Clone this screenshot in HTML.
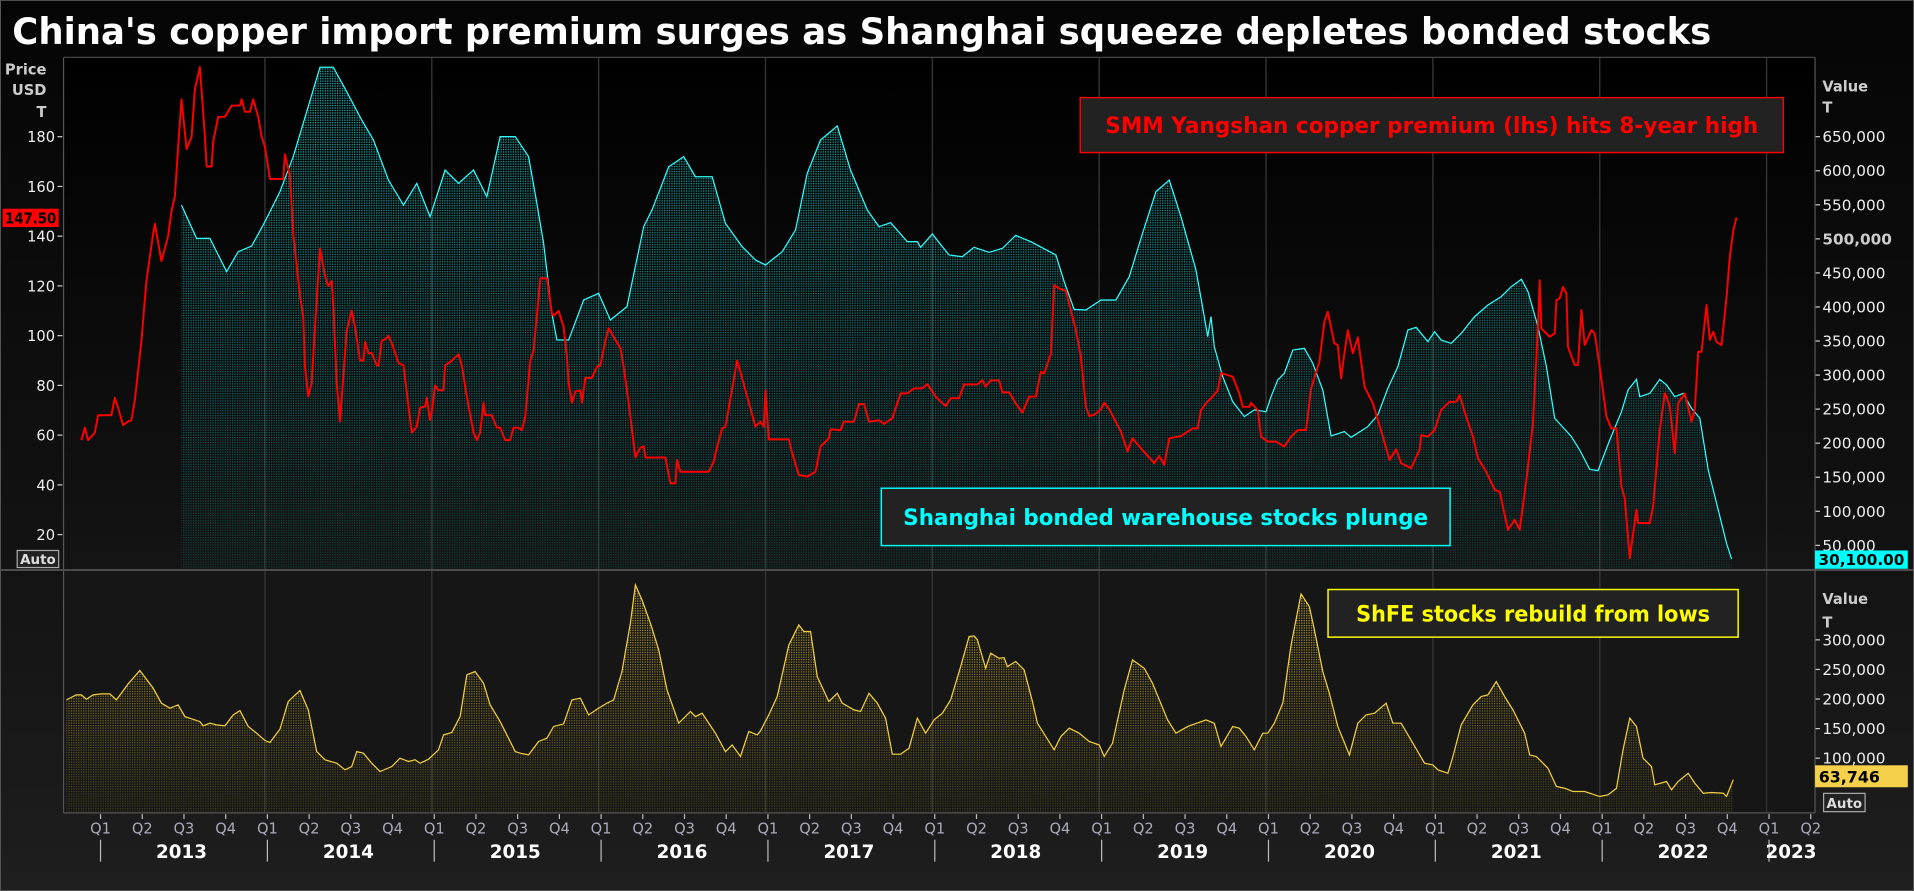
<!DOCTYPE html>
<html><head><meta charset="utf-8"><style>
html,body{margin:0;padding:0;background:#000;}
svg{display:block;font-family:"DejaVu Sans","Liberation Sans",sans-serif;}
</style></head><body>
<svg id="chart" width="1914" height="891" viewBox="0 0 1568 730" xmlns="http://www.w3.org/2000/svg">
<defs>
<linearGradient id="bgTop" x1="0" y1="0" x2="0" y2="1"><stop offset="0" stop-color="#000"/><stop offset="1" stop-color="#141414"/></linearGradient>
<linearGradient id="bgAll" x1="0" y1="0" x2="0" y2="1"><stop offset="0" stop-color="#050505"/><stop offset="0.6" stop-color="#121212"/><stop offset="1" stop-color="#1e1e1e"/></linearGradient>
<pattern id="dotC" width="2" height="2" patternUnits="userSpaceOnUse"><rect width="1" height="1" fill="#2ee"/></pattern>
<pattern id="dotY" width="2" height="2" patternUnits="userSpaceOnUse"><rect width="1" height="1" fill="#f0d040"/></pattern>
<linearGradient id="mgC" gradientUnits="userSpaceOnUse" x1="0" y1="55" x2="0" y2="465"><stop offset="0" stop-color="#fff" stop-opacity="0.85"/><stop offset="0.5" stop-color="#fff" stop-opacity="0.5"/><stop offset="1" stop-color="#fff" stop-opacity="0.18"/></linearGradient>
<linearGradient id="mgY" gradientUnits="userSpaceOnUse" x1="0" y1="480" x2="0" y2="666"><stop offset="0" stop-color="#fff" stop-opacity="0.85"/><stop offset="0.5" stop-color="#fff" stop-opacity="0.5"/><stop offset="1" stop-color="#fff" stop-opacity="0.2"/></linearGradient>
<mask id="maskC" maskUnits="userSpaceOnUse" x="0" y="0" width="1568" height="730"><rect x="0" y="0" width="1568" height="730" fill="url(#mgC)"/></mask>
<mask id="maskY" maskUnits="userSpaceOnUse" x="0" y="0" width="1568" height="730"><rect x="0" y="0" width="1568" height="730" fill="url(#mgY)"/></mask>
</defs>
<rect x="0" y="0" width="1568" height="730" fill="url(#bgAll)" stroke="#555" stroke-width="1.5"/>
<rect x="52" y="47" width="1435" height="420" fill="url(#bgTop)"/>
<rect x="52" y="467" width="1435" height="199" fill="#161616"/>
<text x="10" y="36" fill="#fff" font-size="30" font-weight="bold" textLength="1392" lengthAdjust="spacingAndGlyphs">China's copper import premium surges as Shanghai squeeze depletes bonded stocks</text>
<g id="grid"></g>
<g id="series"></g>
<g id="axes"></g>
<line x1="52" y1="47" x2="1487" y2="47" stroke="#444"/>
<line x1="52" y1="47" x2="52" y2="666" stroke="#555"/>
<line x1="1487" y1="47" x2="1487" y2="666" stroke="#555"/>
<line x1="0" y1="467" x2="1568" y2="467" stroke="#555" stroke-width="1.5"/>
<line x1="52" y1="666" x2="1487" y2="666" stroke="#555"/>
<text x="38" y="61" fill="#ccc" font-size="12" font-weight="bold" text-anchor="end">Price</text>
<text x="38" y="78" fill="#ccc" font-size="12" font-weight="bold" text-anchor="end">USD</text>
<text x="38" y="96" fill="#ccc" font-size="12" font-weight="bold" text-anchor="end">T</text>
<rect x="2" y="171" width="46" height="15" fill="#f00"/>
<text x="46" y="183" fill="#000" font-size="12" font-weight="bold" text-anchor="end" textLength="42" lengthAdjust="spacingAndGlyphs">147.50</text>
<rect x="14" y="451" width="34" height="14" fill="#222" stroke="#aaa"/>
<text x="31" y="462" fill="#ddd" font-size="11" font-weight="bold" text-anchor="middle">Auto</text>
<text x="1493" y="75" fill="#ccc" font-size="12" font-weight="bold">Value</text>
<text x="1493" y="92" fill="#ccc" font-size="12" font-weight="bold">T</text>
<rect x="1487" y="451" width="76" height="15" fill="#0ff"/>
<text x="1525" y="463" fill="#000" font-size="12.5" font-weight="bold" text-anchor="middle">30,100.00</text>
<text x="1493" y="495" fill="#ccc" font-size="12" font-weight="bold">Value</text>
<text x="1493" y="514" fill="#ccc" font-size="12" font-weight="bold">T</text>
<rect x="1487" y="627" width="76" height="18" fill="#f5d04a"/>
<text x="1490" y="641" fill="#000" font-size="13" font-weight="bold">63,746</text>
<rect x="1494" y="650" width="34" height="15" fill="#222" stroke="#aaa"/>
<text x="1511" y="662" fill="#ddd" font-size="11" font-weight="bold" text-anchor="middle">Auto</text>
<g>
<rect x="885" y="80" width="576" height="45" fill="#222" stroke="#f00" stroke-width="1.2"/>
<text x="1173" y="109" fill="#f00" font-size="18" font-weight="bold" text-anchor="middle" textLength="535" lengthAdjust="spacingAndGlyphs">SMM Yangshan copper premium (lhs) hits 8-year high</text>
</g>
<g>
<rect x="722" y="400" width="466" height="47" fill="#222" stroke="#0ff" stroke-width="1.2"/>
<text x="955" y="430" fill="#0ff" font-size="18" font-weight="bold" text-anchor="middle" textLength="430" lengthAdjust="spacingAndGlyphs">Shanghai bonded warehouse stocks plunge</text>
</g>
<g>
<rect x="1088" y="483" width="336" height="39" fill="#222" stroke="#ff0" stroke-width="1.2"/>
<text x="1256" y="509" fill="#ff0" font-size="18" font-weight="bold" text-anchor="middle" textLength="290" lengthAdjust="spacingAndGlyphs">ShFE stocks rebuild from lows</text>
</g>
</svg>
<script>
const premiumDates = [2012.90,2012.92,2012.94,2012.98,2013.00,2013.08,2013.10,2013.12,2013.15,2013.18,2013.20,2013.22,2013.26,2013.29,2013.33,2013.34,2013.38,2013.42,2013.44,2013.46,2013.48,2013.50,2013.53,2013.56,2013.58,2013.61,2013.64,2013.65,2013.68,2013.69,2013.72,2013.76,2013.80,2013.85,2013.86,2013.88,2013.91,2013.93,2013.96,2013.98,2014.00,2014.03,2014.11,2014.12,2014.15,2014.17,2014.21,2014.23,2014.24,2014.26,2014.28,2014.30,2014.33,2014.36,2014.38,2014.40,2014.41,2014.43,2014.45,2014.47,2014.49,2014.52,2014.54,2014.57,2014.59,2014.60,2014.62,2014.64,2014.67,2014.68,2014.70,2014.72,2014.74,2014.76,2014.80,2014.83,2014.88,2014.91,2014.93,2014.96,2014.97,2014.99,2015.00,2015.02,2015.04,2015.07,2015.08,2015.12,2015.16,2015.18,2015.21,2015.25,2015.27,2015.29,2015.31,2015.32,2015.36,2015.39,2015.41,2015.44,2015.47,2015.49,2015.52,2015.54,2015.56,2015.59,2015.61,2015.65,2015.69,2015.72,2015.73,2015.76,2015.79,2015.81,2015.82,2015.84,2015.86,2015.89,2015.90,2015.92,2015.96,2015.99,2016.01,2016.04,2016.06,2016.09,2016.13,2016.15,2016.18,2016.22,2016.25,2016.27,2016.28,2016.40,2016.43,2016.46,2016.47,2016.49,2016.66,2016.69,2016.71,2016.74,2016.76,2016.83,2016.88,2016.94,2016.97,2016.99,2017.00,2017.02,2017.14,2017.16,2017.20,2017.25,2017.30,2017.33,2017.38,2017.39,2017.45,2017.47,2017.53,2017.56,2017.59,2017.62,2017.68,2017.71,2017.76,2017.81,2017.85,2017.89,2017.94,2017.97,2018.02,2018.08,2018.11,2018.16,2018.19,2018.27,2018.30,2018.32,2018.35,2018.40,2018.42,2018.46,2018.50,2018.54,2018.58,2018.62,2018.65,2018.67,2018.71,2018.73,2018.76,2018.80,2018.86,2018.89,2018.92,2018.94,2018.97,2019.01,2019.03,2019.06,2019.13,2019.17,2019.20,2019.25,2019.33,2019.36,2019.39,2019.42,2019.49,2019.56,2019.59,2019.61,2019.64,2019.68,2019.71,2019.73,2019.80,2019.84,2019.86,2019.90,2019.91,2019.95,2019.97,2020.01,2020.06,2020.11,2020.15,2020.19,2020.24,2020.27,2020.32,2020.35,2020.37,2020.41,2020.43,2020.45,2020.47,2020.49,2020.52,2020.55,2020.59,2020.64,2020.70,2020.74,2020.78,2020.81,2020.87,2020.92,2020.93,2020.97,2021.01,2021.05,2021.10,2021.14,2021.16,2021.19,2021.24,2021.27,2021.32,2021.37,2021.40,2021.45,2021.49,2021.52,2021.56,2021.60,2021.63,2021.64,2021.65,2021.70,2021.73,2021.74,2021.76,2021.78,2021.80,2021.81,2021.85,2021.87,2021.89,2021.91,2021.95,2021.97,2022.00,2022.04,2022.07,2022.10,2022.13,2022.15,2022.18,2022.22,2022.23,2022.30,2022.32,2022.36,2022.39,2022.40,2022.42,2022.45,2022.47,2022.51,2022.55,2022.57,2022.59,2022.61,2022.64,2022.66,2022.68,2022.70,2022.73,2022.76,2022.78,2022.80,2022.82];
const premiumValues = [58,63,58,61,68,68,75,71,64,65.5,66,74,98,122,141,145,130,140,150,156,176,195,175,180,199,208,180,168,168,178,188,188,192.5,192.5,195,190,190,195,188,180,176,163,163,173,164,141,116,107.5,87.5,75.5,81,103.5,135,124,120,122,112,81,65.5,83.5,102,110,103.5,90,90,97.5,93,93,88,88,98,98.5,100,97,89,88,61,63.5,71,71.5,75,66,69,80,78,78,88,90,92.5,88,75.5,61,58,61,73,68,68,63,63,58,58,63,63,62,67.5,90,94,123,123,109,108,110,103.5,91.5,81,73,77.5,78,73,83,83,87.5,88,98,103,99.5,95,87.5,73,51,55,55.5,51,51,40.6,40.6,50,45.3,45.3,49.3,55.4,62.7,63.4,90,78,63.4,65.4,63.4,78,58.3,58.3,52.7,44,43.3,45.3,55.4,58.7,62.3,62,65.4,65.4,72.5,72.5,65.4,66,64.5,66.8,76.8,76.8,78.8,78.8,80.5,75.5,71.7,74.8,74.8,80.4,80.4,82.1,79.5,82,82,77.2,77.2,72.8,69,75.5,75.5,85.5,84.8,92.6,120.3,119,118,102.2,91.5,71.4,67.7,68.1,70.4,73,70.4,61.4,53.4,58.7,54.7,48.7,51.6,48,58.7,59.6,62.7,62.7,70,72.8,75.5,77.9,85,83.5,76.8,71.4,71.4,73,70.1,59.4,57.4,57.4,55.4,59.4,62,62,78.8,89.5,105.6,109.6,96.9,96.2,82.8,92.9,102.2,92.9,99.3,79.5,72.8,59.4,50,54.3,48.7,46.7,54.1,60,59.4,62,70.1,73.4,73.4,76.1,69.4,59.4,50.7,45.3,38,37.3,21.9,25.9,21.9,42,64.7,103.6,122.3,102.9,99.5,100.9,114.3,115,119.6,117,95.5,88.2,88.2,110.3,96.2,102.2,100.9,87.5,67.4,62.7,62.7,39.3,34.6,10.5,30,24.6,24.6,31.3,62.1,76.8,75.5,71.4,52.7,72.8,76.8,65.4,70.4,93.5,93.5,112.3,98.2,101.5,97.5,96.2,115.6,131.7,142.4,147.5];
const bondedDates = [2013.50,2013.59,2013.67,2013.77,2013.84,2013.92,2014.00,2014.09,2014.17,2014.25,2014.33,2014.41,2014.49,2014.58,2014.65,2014.74,2014.83,2014.91,2014.99,2015.08,2015.16,2015.25,2015.33,2015.41,2015.50,2015.58,2015.63,2015.67,2015.72,2015.75,2015.82,2015.91,2016.00,2016.07,2016.17,2016.27,2016.32,2016.42,2016.51,2016.58,2016.68,2016.76,2016.86,2016.94,2017.00,2017.10,2017.18,2017.25,2017.33,2017.43,2017.51,2017.61,2017.68,2017.75,2017.85,2017.91,2017.93,2018.00,2018.10,2018.18,2018.25,2018.34,2018.42,2018.50,2018.59,2018.74,2018.79,2018.85,2018.92,2019.01,2019.10,2019.18,2019.26,2019.34,2019.42,2019.49,2019.58,2019.63,2019.65,2019.67,2019.69,2019.74,2019.80,2019.87,2019.93,2020.00,2020.03,2020.07,2020.11,2020.16,2020.23,2020.28,2020.34,2020.39,2020.47,2020.51,2020.61,2020.67,2020.73,2020.79,2020.85,2020.90,2020.97,2021.01,2021.05,2021.11,2021.17,2021.25,2021.33,2021.41,2021.47,2021.53,2021.57,2021.63,2021.68,2021.73,2021.83,2021.88,2021.94,2021.99,2022.06,2022.13,2022.17,2022.22,2022.24,2022.30,2022.36,2022.40,2022.45,2022.50,2022.55,2022.60,2022.65,2022.71,2022.76,2022.79];
const bondedValues = [549700,500800,500800,451900,481200,489500,525300,569300,620700,686800,751900,751900,716100,674500,645200,586400,549700,581600,532600,601100,581600,601100,562000,650100,650100,620700,552200,493500,390700,351500,351500,410300,420000,380900,400500,517900,542400,606000,620700,591300,591300,522800,488600,469000,461700,481200,513000,596200,645200,665700,601100,542400,517900,523800,495900,495900,487600,507100,476300,473900,487600,480200,486100,505200,495900,476300,437200,396500,395600,410300,410300,444500,508100,569300,586400,532600,454300,385800,356400,385800,341700,297700,261000,239000,249000,246300,268300,292800,302600,336800,339300,317300,278100,210600,217000,208600,224300,241400,280600,312400,366200,370100,349100,363800,351500,346600,361300,385800,402900,415200,429800,440600,422500,371100,312400,236500,209600,190000,161600,159700,204700,246300,278100,293800,268300,273200,293800,285500,268300,273200,251200,236500,160700,101900,52800,30100];
const shfeDates = [2012.81,2012.87,2012.90,2012.93,2012.97,2013.02,2013.07,2013.11,2013.18,2013.25,2013.33,2013.38,2013.43,2013.48,2013.52,2013.61,2013.63,2013.67,2013.71,2013.76,2013.81,2013.85,2013.90,2013.95,2014.00,2014.03,2014.09,2014.14,2014.21,2014.26,2014.31,2014.36,2014.43,2014.48,2014.52,2014.55,2014.59,2014.64,2014.69,2014.76,2014.81,2014.86,2014.90,2014.93,2014.98,2015.04,2015.07,2015.12,2015.17,2015.21,2015.26,2015.31,2015.35,2015.41,2015.50,2015.53,2015.58,2015.64,2015.69,2015.73,2015.79,2015.84,2015.89,2015.94,2016.00,2016.05,2016.09,2016.14,2016.19,2016.22,2016.26,2016.31,2016.36,2016.41,2016.48,2016.55,2016.58,2016.62,2016.70,2016.76,2016.80,2016.85,2016.90,2016.95,2016.97,2017.02,2017.07,2017.14,2017.20,2017.23,2017.27,2017.31,2017.38,2017.43,2017.46,2017.53,2017.57,2017.62,2017.67,2017.72,2017.76,2017.81,2017.86,2017.91,2017.96,2018.01,2018.06,2018.11,2018.17,2018.22,2018.25,2018.27,2018.32,2018.35,2018.40,2018.43,2018.45,2018.50,2018.55,2018.60,2018.63,2018.73,2018.77,2018.82,2018.88,2018.94,2019.00,2019.03,2019.08,2019.15,2019.20,2019.27,2019.32,2019.41,2019.46,2019.53,2019.64,2019.69,2019.73,2019.80,2019.84,2019.88,2019.93,2019.98,2020.01,2020.05,2020.10,2020.15,2020.21,2020.26,2020.29,2020.34,2020.38,2020.43,2020.50,2020.55,2020.60,2020.65,2020.72,2020.76,2020.81,2020.88,2020.95,2021.00,2021.03,2021.09,2021.12,2021.17,2021.24,2021.29,2021.33,2021.38,2021.43,2021.48,2021.55,2021.58,2021.62,2021.69,2021.74,2021.79,2021.84,2021.91,2022.00,2022.05,2022.10,2022.14,2022.18,2022.22,2022.26,2022.31,2022.33,2022.40,2022.43,2022.47,2022.53,2022.57,2022.62,2022.67,2022.74,2022.76,2022.80];
const shfeValues = [198600,207000,207000,199700,207000,208700,208700,198600,225600,248200,218300,193000,184500,190100,170400,161900,154600,159100,156300,154600,173200,180500,153500,142200,129800,126500,149000,195800,214300,181700,111200,97200,91500,80300,85900,111200,108400,91500,77400,85900,100000,94400,97200,91500,98300,114100,139400,143400,170400,240800,246500,226700,190100,161900,111200,108400,105600,128200,133800,153500,158000,198600,201400,173200,184500,193000,198600,246500,328200,393000,367600,328200,283100,215500,159100,178900,170400,176000,142200,111200,122500,102800,145100,139400,146200,173200,204200,291500,325300,314100,314100,238000,195800,209800,193000,181700,178900,209800,193000,167600,106700,106700,116900,167600,142200,164800,176000,198600,255000,305600,306700,300000,252100,277500,269000,270000,254900,263400,249300,195800,159100,114100,136600,150700,142200,128200,122500,102800,125300,215500,266200,252100,226700,164800,142200,153500,164800,159100,119700,153500,150700,136600,114100,142200,142200,159100,193000,291500,377700,356300,316900,246500,209800,153500,105600,159100,173200,176000,193000,159100,159100,125300,91500,88700,80300,74600,102800,156300,190100,204200,207000,229600,204200,181700,142200,105600,102800,83100,52100,49300,43600,43600,35200,38000,49300,114100,167600,153500,100000,85900,54900,60600,46500,60600,74600,57700,40800,41900,40800,35200,63746];
const quarterLabels = ["Q1","Q2","Q3","Q4"];
const yearLabels = ["2013","2014","2015","2016","2017","2018","2019","2020","2021","2022","2023"];
const priceTicks = [20,40,60,80,100,120,140,160,180];
const bondedTicks = [50000,100000,150000,200000,250000,300000,350000,400000,450000,500000,550000,600000,650000];
const shfeTicks = [100000,150000,200000,250000,300000];

const NS = "http://www.w3.org/2000/svg";
const xT = t => 80.3 + 136.7 * (t - 2013);
const yP = v => 112 + (180 - v) * 2.0375;
const yS = v => 112 + (650000 - v) * 0.000558;
const yB = v => 466.9 + (418300 - v) * 0.0004847;
const fmt = v => v.toLocaleString("en-US");
function mk(tag, attrs, parent) {
  const el = document.createElementNS(NS, tag);
  for (const k in attrs) el.setAttribute(k, attrs[k]);
  parent.appendChild(el);
  return el;
}
const grid = document.getElementById("grid");
const series = document.getElementById("series");
const axes = document.getElementById("axes");

yearLabels.forEach((y, i) => {
  const yr = 2013 + i;
  const x = xT(yr);
  if (i > 0) {
    const g = mk("line", {x1: x, y1: 47, x2: x, y2: 666, stroke: "#333", "stroke-width": 1.2}, grid);
    
    
  }
  const sep = mk("line", {x1: x + 2, y1: 688, x2: x + 2, y2: 706, stroke: "#bbb"}, axes);
  
  
  const cx = i === yearLabels.length - 1 ? x + 20 : xT(yr + 0.5);
  const yl = mk("text", {x: cx, y: 703, fill: "#fff", "font-size": 15, "font-weight": "bold", "text-anchor": "middle"}, axes);
  yl.textContent = y;
  
  
  quarterLabels.forEach((q, j) => {
    if (yr === 2023 && j > 1) return;
    const qx = xT(yr + j * 0.25) + 2;
    mk("line", {x1: qx, y1: 667, x2: qx, y2: 671, stroke: "#bbb"}, axes);
    const ql = mk("text", {x: qx, y: 683, fill: "#aab", "font-size": 12, "text-anchor": "middle"}, axes);
    ql.textContent = q;
    
    
  });
});

priceTicks.forEach(v => {
  const y = yP(v);
  mk("line", {x1: 47, y1: y, x2: 51, y2: y, stroke: "#ccc"}, axes);
  const t = mk("text", {x: 45, y: y + 4.5, fill: "#eee", "font-size": 12, "text-anchor": "end"}, axes);
  t.textContent = v;
  
  
});
bondedTicks.forEach(v => {
  const y = yS(v);
  mk("line", {x1: 1487, y1: y, x2: 1491, y2: y, stroke: "#ccc"}, axes);
  const t = mk("text", {x: 1493, y: y + 4.5, fill: v === 500000 ? "#ccc" : "#eee", "font-size": 12.5, "font-weight": v === 500000 ? "bold" : "normal"}, axes);
  t.textContent = fmt(v);
  
  
});
shfeTicks.forEach(v => {
  const y = yB(v);
  mk("line", {x1: 1487, y1: y, x2: 1491, y2: y, stroke: "#ccc"}, axes);
  const t = mk("text", {x: 1493, y: y + 4.5, fill: "#eee", "font-size": 12.5}, axes);
  t.textContent = fmt(v);
  
  
});

function linePts(dates, vals, ys) {
  return dates.map((d, i) => xT(d).toFixed(1) + "," + ys(vals[i]).toFixed(1)).join(" ");
}
function areaPath(dates, vals, ys, base) {
  let p = "M" + xT(dates[0]).toFixed(1) + "," + base;
  dates.forEach((d, i) => { p += " L" + xT(d).toFixed(1) + "," + ys(vals[i]).toFixed(1); });
  p += " L" + xT(dates[dates.length - 1]).toFixed(1) + "," + base + " Z";
  return p;
}
const bArea = mk("path", {d: areaPath(bondedDates, bondedValues, yS, 466), fill: "url(#dotC)", mask: "url(#maskC)"}, series);


const bLine = mk("polyline", {points: linePts(bondedDates, bondedValues, yS), fill: "none", stroke: "#3ff", "stroke-width": 1}, series);



const sArea = mk("path", {d: areaPath(shfeDates, shfeValues, yB, 665), fill: "url(#dotY)", mask: "url(#maskY)"}, series);


const sLine = mk("polyline", {points: linePts(shfeDates, shfeValues, yB), fill: "none", stroke: "#f2d040", "stroke-width": 1}, series);



const pLine = mk("polyline", {points: linePts(premiumDates, premiumValues, yP), fill: "none", stroke: "#f00", "stroke-width": 1.6, "stroke-linejoin": "round"}, series);


</script>
</body></html>
